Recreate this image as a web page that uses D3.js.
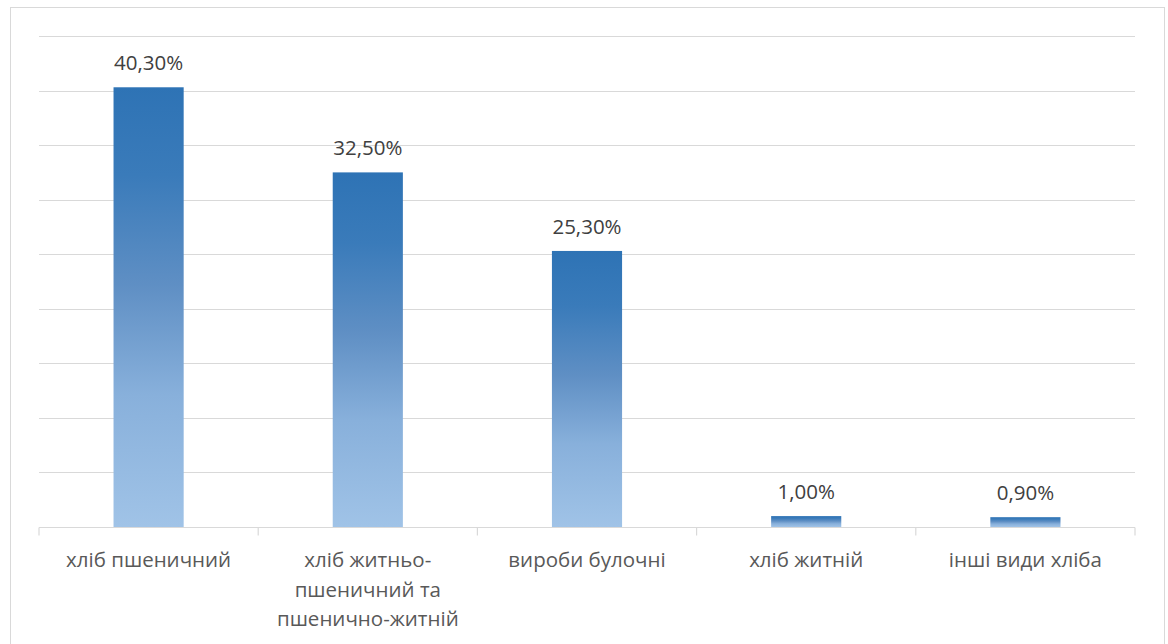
<!DOCTYPE html>
<html><head><meta charset="utf-8">
<script src="https://cdn.jsdelivr.net/npm/d3@7/dist/d3.min.js"></script>
<style>body{margin:0;background:#fff;} svg{display:block;}</style>
</head><body>
<script>
const categories = [["хліб пшеничний"], ["хліб житньо-", "пшеничний та", "пшенично-житній"], ["вироби булочні"], ["хліб житній"], ["інші види хліба"]];
const values = [40.3, 32.5, 25.3, 1.0, 0.9];
const valueLabels = ["40,30%", "32,50%", "25,30%", "1,00%", "0,90%"];
const gridTicks = [0, 5, 10, 15, 20, 25, 30, 35, 40, 45];

const W = 1168, H = 644;
const svg = d3.select("body").append("svg").attr("width", W).attr("height", H);
const font = "'Open Sans', 'Noto Sans', sans-serif";

svg.append("rect").attr("x", 10.5).attr("y", 7.5).attr("width", 1154).attr("height", 660)
  .attr("fill", "#fff").attr("stroke", "#d9d9d9").attr("stroke-width", 1);

const pLeft = 39, pRight = 1135, pTop = 36, pBottom = 527;
const x = d3.scaleBand().domain(d3.range(categories.length)).range([pLeft, pRight]).paddingInner(0.68).paddingOuter(0.34);
const y = d3.scaleLinear().domain([0, 45]).range([pBottom, pTop]);

const defs = svg.append("defs");
const grad = defs.append("linearGradient").attr("id", "g").attr("x1", 0).attr("y1", 0).attr("x2", 0).attr("y2", 1);
[[0, "#2E73B5"], [0.2, "#3A7BBA"], [0.45, "#5F8FC4"], [0.7, "#88B0DB"], [1, "#A0C3E7"]].forEach(([o, c]) =>
  grad.append("stop").attr("offset", o).attr("stop-color", c));

svg.append("g").selectAll("line").data(gridTicks.slice(1)).join("line")
  .attr("x1", pLeft).attr("x2", pRight).attr("y1", d => Math.round(y(d)) + 0.5).attr("y2", d => Math.round(y(d)) + 0.5)
  .attr("stroke", "#d9d9d9").attr("stroke-width", 1.2);

svg.append("g").selectAll("rect").data(values).join("rect")
  .attr("x", (d, i) => x(i)).attr("width", x.bandwidth())
  .attr("y", d => y(d)).attr("height", d => y(0) - y(d))
  .attr("fill", "url(#g)");

// axis
const xAxisG = svg.append("g").attr("transform", `translate(0,${pBottom + 0.5})`);
xAxisG.append("line").attr("x1", pLeft).attr("x2", pRight).attr("stroke", "#d9d9d9").attr("stroke-width", 1.2);
const step = (pRight - pLeft) / categories.length;
xAxisG.selectAll("line.tick").data(d3.range(categories.length + 1)).join("line").attr("class", "tick")
  .attr("x1", i => pLeft + i * step).attr("x2", i => pLeft + i * step).attr("y1", 0).attr("y2", 8)
  .attr("stroke", "#d9d9d9").attr("stroke-width", 1.2);

svg.append("g").selectAll("text").data(categories).join("text")
  .attr("text-anchor", "middle").attr("font-family", font).attr("font-size", 20.5).attr("fill", "#595959")
  .each(function(lines, i) {
    const t = d3.select(this);
    lines.forEach((l, j) => t.append("tspan").attr("x", x(i) + x.bandwidth() / 2).attr("y", 567 + j * 29.5).text(l));
  });

svg.append("g").selectAll("text").data(values).join("text")
  .attr("x", (d, i) => x(i) + x.bandwidth() / 2).attr("y", d => y(d) - 17)
  .attr("text-anchor", "middle").attr("font-family", font).attr("font-size", 20.5).attr("fill", "#404040")
  .text((d, i) => valueLabels[i]);
</script>
</body></html>
